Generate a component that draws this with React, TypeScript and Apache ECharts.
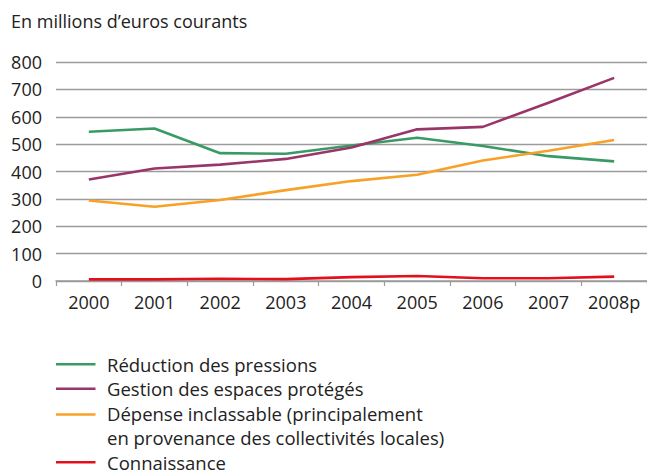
import React, { useEffect, useRef } from "react";
import * as echarts from "echarts";

const years = ["2000", "2001", "2002", "2003", "2004", "2005", "2006", "2007", "2008p"];
const reductionPressions = [545, 557, 467, 465, 495, 523, 493, 456, 437];
const gestionEspaces = [371, 411, 425, 446, 488, 554, 563, 651, 742];
const depenseInclassable = [294, 271, 296, 332, 365, 388, 440, 476, 515];
const connaissance = [6, 6, 8, 7, 14, 18, 10, 10, 16];

const seriesNames = [
  "Réduction des pressions",
  "Gestion des espaces protégés",
  "Dépense inclassable (principalement en provenance des collectivités locales)",
  "Connaissance",
];
const seriesColors = ["#3a9a65", "#9a3569", "#f7a126", "#e2101d"];
const seriesData = [reductionPressions, gestionEspaces, depenseInclassable, connaissance];

const FONT = "'Open Sans', sans-serif";
const TEXT = "#222222";

// legend icons: a line drawn inside a 46x24.5 box (tiny corner dots fix the box)
const iconCentered = "path://M0 0h0.01v0.01h-0.01zM46 24.5h-0.01v-0.01h0.01zM0 11h39.5v2.5h-39.5z";
const iconTop = "path://M0 0h0.01v0.01h-0.01zM46 24.5h-0.01v-0.01h0.01zM0 0h39.5v2.5h-39.5z";

export default function App() {
  const ref = useRef<HTMLDivElement>(null);
  useEffect(() => {
    if (!ref.current) return;
    const chart = echarts.init(ref.current, null, { renderer: "svg" });
    chart.setOption({
      animation: false,
      backgroundColor: "#ffffff",
      textStyle: { fontFamily: FONT },
      title: {
        text: "En millions d\u2019euros courants",
        left: 6,
        top: 7,
        textStyle: { fontFamily: FONT, fontSize: 18, fontWeight: "normal", color: TEXT },
      },
      grid: { left: 56, right: 0, top: 62, bottom: 193, containLabel: false },
      legend: {
        orient: "vertical",
        left: 51,
        top: 347,
        height: 160,
        itemWidth: 46,
        itemHeight: 24.5,
        itemGap: 0,
        selectedMode: false,
        textStyle: { fontFamily: FONT, fontSize: 18.5, color: TEXT, lineHeight: 24.5 },
        formatter: (name: string) =>
          name === seriesNames[2]
            ? "Dépense inclassable (principalement\nen provenance des collectivités locales)"
            : name,
        data: seriesNames.map((n, i) => ({ name: n, icon: i === 2 ? iconTop : iconCentered })),
      },
      xAxis: {
        type: "category",
        data: years,
        boundaryGap: true,
        axisLine: { show: true, lineStyle: { color: "#9b9b9b", width: 1.5 } },
        axisTick: { show: true, length: 5, lineStyle: { color: "#9b9b9b", width: 1.2 } },
        axisLabel: { fontFamily: FONT, fontSize: 18, color: TEXT, margin: 12, interval: 0 },
      },
      yAxis: {
        type: "value",
        min: 0,
        max: 800,
        interval: 100,
        axisLine: { show: false },
        axisTick: { show: false },
        splitLine: { show: true, lineStyle: { color: "#9b9b9b", width: 1.3 } },
        axisLabel: { fontFamily: FONT, fontSize: 18, color: TEXT, margin: 14 },
      },
      series: seriesNames.map((n, i) => ({
        name: n,
        type: "line",
        data: seriesData[i],
        showSymbol: false,
        symbol: "none",
        lineStyle: { color: seriesColors[i], width: 2.6 },
        itemStyle: { color: seriesColors[i] },
      })),
    });
    return () => chart.dispose();
  }, []);
  return (
    <div
      ref={ref}
      style={{ position: "absolute", left: 0, top: 0, width: 647, height: 474 }}
    />
  );
}
